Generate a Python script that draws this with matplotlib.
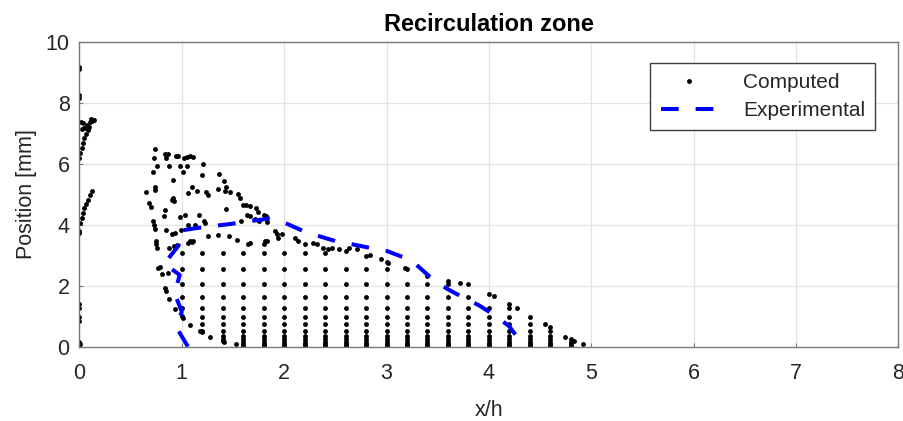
import matplotlib
matplotlib.use("Agg")
import matplotlib.pyplot as plt
import numpy as np

plt.rcParams['font.family'] = ['Liberation Sans', 'DejaVu Sans']

# ---- Computed points: regular mesh columns ----
col_x = [1.0, 1.2, 1.4, 1.6, 1.8, 2.0, 2.2, 2.4, 2.6, 2.8, 3.0, 3.2, 3.4, 3.6, 3.8, 4.0, 4.2, 4.4, 4.6, 4.8]
col_lo = [1.27, 0.52, 0.24, 0.02, 0.02, 0.02, 0.02, 0.02, 0.02, 0.02, 0.02, 0.02, 0.02, 0.02, 0.02, 0.02, 0.02, 0.02, 0.02, 0.02]
col_hi = [3.07, 3.07, 3.07, 3.07, 3.07, 3.07, 3.07, 3.07, 2.55, 2.55, 2.55, 2.55, 2.04, 2.04, 2.04, 1.27, 1.27, 0.97, 0.52, 0.24]
mesh_levels = [0.02, 0.08, 0.15, 0.24, 0.36, 0.52, 0.73, 0.97, 1.27, 1.62, 2.04, 2.55, 3.07]

# ---- Computed points: scattered ones ----
irr_x = [0.00, 0.00, 0.00, 0.00,
         0.00, 0.01, 0.03, 0.04, 0.05, 0.06, 0.08, 0.09, 0.03, 0.05, 0.02, 0.04, 0.07, 0.10, 0.12, 0.14, 0.11,
         0.00, 0.00, 0.01, 0.03, 0.04, 0.05, 0.06, 0.08, 0.10, 0.12,
         0.00, 0.00, 0.00, 0.00, 0.00, 0.01, 0.00,
         0.74, 0.73, 0.84, 0.87, 0.85, 0.94, 0.96, 1.02, 1.05, 1.08, 1.11,
         0.76, 0.88, 0.98, 1.05, 1.21, 1.01, 0.72, 1.20, 1.36, 0.91, 1.41,
         0.74, 0.74, 0.65, 1.10, 1.06, 1.15, 1.24, 1.26, 1.35, 1.43, 1.42, 1.47,
         0.91, 0.92, 0.90, 1.55, 1.57, 0.68, 0.70, 0.84, 1.43, 1.60, 1.63, 1.67, 1.73, 1.74, 1.64, 1.80, 1.82,
         0.83, 0.98, 1.03, 1.06, 1.13, 1.17, 1.22, 1.23, 0.72, 0.73, 0.74, 0.85, 0.90, 0.93, 0.99,
         1.26, 1.35, 1.46, 1.54, 1.58, 1.67, 1.81, 0.75, 0.75, 0.76, 1.08, 1.11, 0.93,
         1.67, 1.72, 1.75, 1.83, 1.91, 1.93, 1.94, 1.98, 1.83, 1.80, 2.11, 2.14, 2.20, 2.28, 2.32, 2.38,
         2.43, 2.47, 2.54, 2.60, 2.63, 2.71, 2.80, 2.84, 2.95, 3.00, 3.01, 3.18, 3.40, 3.60, 3.72,
         4.00, 4.05, 4.20, 4.27, 4.55, 4.60, 4.74, 4.83, 4.92,
         0.88, 0.92, 0.95, 1.06, 1.10, 1.65, 0.79, 0.81, 0.87, 0.77, 0.84, 0.85, 0.88, 0.93, 1.00, 1.01,
         1.08, 1.18, 1.20, 1.28, 1.40, 1.41, 1.53]
irr_y = [9.17, 9.09, 8.24, 8.16,
         6.18, 6.34, 6.50, 6.67, 6.83, 6.96, 7.10, 7.21, 7.13, 7.18, 7.37, 7.32, 7.27, 7.37, 7.40, 7.42, 7.46,
         3.78, 3.72, 4.06, 4.22, 4.38, 4.54, 4.68, 4.82, 4.96, 5.09,
         1.39, 1.28, 0.96, 0.85, 0.14, 0.07, 0.02,
         6.48, 6.20, 6.31, 6.31, 6.18, 6.26, 6.24, 6.20, 6.23, 6.26, 6.23,
         5.91, 5.94, 5.91, 5.91, 5.98, 5.72, 5.72, 5.63, 5.67, 5.47, 5.44,
         5.25, 5.15, 5.07, 5.22, 5.03, 5.09, 5.07, 4.98, 5.18, 5.25, 5.09, 5.07,
         4.89, 4.76, 4.80, 5.00, 4.89, 4.71, 4.57, 4.49, 4.52, 4.66, 4.63, 4.60, 4.55, 4.41, 4.31, 4.33, 4.27,
         4.27, 4.24, 4.33, 4.00, 4.00, 4.31, 4.11, 4.06, 4.13, 4.00, 3.87, 3.84, 3.70, 3.73, 3.84,
         3.62, 3.65, 3.62, 3.51, 4.11, 3.40, 3.46, 3.46, 3.35, 3.24, 3.46, 3.46, 3.24,
         4.27, 4.20, 4.11, 4.09, 3.78, 3.68, 3.57, 3.70, 3.48, 3.37, 3.57, 3.46, 3.37, 3.40, 3.35, 3.24,
         3.19, 3.24, 3.19, 3.13, 3.22, 3.19, 2.97, 3.02, 2.86, 2.78, 2.75, 2.59, 2.32, 2.15, 2.07,
         1.72, 1.66, 1.41, 1.26, 0.74, 0.65, 0.33, 0.20, 0.07,
         3.24, 3.30, 3.33, 3.40, 3.43, 3.35, 2.61, 2.37, 2.42, 2.59, 1.93, 1.83, 1.56, 1.23, 1.01, 0.94,
         0.72, 0.50, 0.47, 0.33, 0.20, 0.14, 0.07]

# ---- Experimental recirculation boundary ----
exp_x = [1.06, 0.95, 1.00, 0.93, 0.98, 0.83, 0.97, 0.98, 1.15, 1.47, 1.85, 1.92, 2.20, 2.50, 2.60,
         2.85, 3.00, 3.18, 3.26, 3.46, 3.60, 3.76, 3.90, 4.07, 4.20, 4.32]
exp_y = [0.00, 0.62, 1.15, 1.75, 2.35, 2.72, 3.32, 3.80, 3.89, 4.02, 4.20, 4.19, 3.77, 3.46, 3.40,
         3.23, 3.14, 2.91, 2.78, 2.18, 1.88, 1.59, 1.36, 1.00, 0.66, 0.12]

x_ticks = [0, 1, 2, 3, 4, 5, 6, 7, 8]
y_ticks = [0, 2, 4, 6, 8, 10]

# assemble computed points
cx, cy = [], []
for x, lo, hi in zip(col_x, col_lo, col_hi):
    for lv in mesh_levels:
        if lo - 1e-9 <= lv <= hi + 1e-9:
            cx.append(x)
            cy.append(lv)
cx += irr_x
cy += irr_y

fig = plt.figure(figsize=(9.04, 4.21), dpi=100)
ax = fig.add_axes([0.0878, 0.1767, 0.906, 0.7242])

ax.plot(cx, cy, linestyle='none', marker='o', ms=3.5, color='black',
        markeredgewidth=0, label='Computed')
ax.plot(exp_x, exp_y, color='#0000ff', lw=2.9, linestyle=(0, (4.4, 4.2)),
        label='Experimental', solid_capstyle='butt', dash_capstyle='butt')

ax.set_xlim(0, 8)
ax.set_ylim(0, 10)
ax.set_xticks(x_ticks)
ax.set_yticks(y_ticks)
ax.grid(True, color='#e3e3e3', lw=0.9)
ax.set_axisbelow(True)
for s in ax.spines.values():
    s.set_color('#7a7a7a')
    s.set_linewidth(1.0)
ax.tick_params(direction='in', length=3, width=0.8, color='#7a7a7a',
               labelsize=15.5, labelcolor='#262626')
ax.tick_params(axis='x', pad=12)
ax.tick_params(axis='y', pad=7)

ax.set_xlabel('x/h', fontsize=15.5, color='#262626', labelpad=11)
ax.set_ylabel('Position [mm]', fontsize=15.5, color='#262626', labelpad=6)
ax.set_title('Recirculation zone', fontsize=17, fontweight='bold', color='black', pad=8)

leg = ax.legend(loc='upper right', bbox_to_anchor=(0.972, 0.930), borderaxespad=0,
                fontsize=15, frameon=True, fancybox=False, framealpha=1,
                edgecolor='#404040', handlelength=2.75, handletextpad=1.2,
                borderpad=0.5, labelspacing=0.4, markerscale=1.0)
leg.get_frame().set_linewidth(1.0)
for t in leg.get_texts():
    t.set_color('#262626')

fig.savefig('out.png', dpi=100)
